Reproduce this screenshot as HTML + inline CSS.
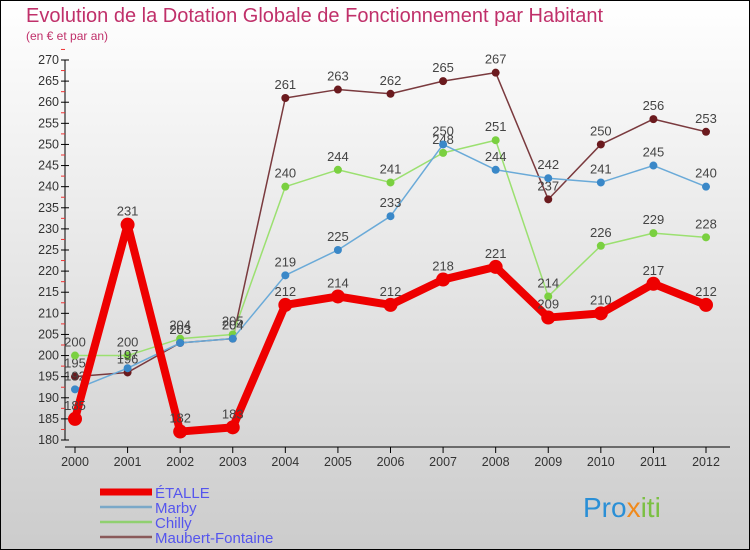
<!DOCTYPE html>
<html><head><meta charset="utf-8"><style>
body{margin:0;}
#wrap{width:750px;height:550px;position:relative;overflow:hidden;font-family:"Liberation Sans",sans-serif;}
</style></head><body>
<div id="wrap">
<svg id="svg" width="750" height="550" xmlns="http://www.w3.org/2000/svg">
<defs><linearGradient id="bg" x1="0" y1="0" x2="0" y2="1"><stop offset="0" stop-color="#ffffff"/><stop offset="1" stop-color="#cccccc"/></linearGradient></defs>
<rect x="0.5" y="0.5" width="749" height="549" fill="url(#bg)" stroke="#000"/>
<text x="26" y="22" font-size="20" fill="#c0306a">Evolution de la Dotation Globale de Fonctionnement par Habitant</text>
<text x="26" y="40" font-size="12" fill="#c0306a">(en € et par an)</text>
<g id="axes"></g><g id="series"></g><g id="legend"></g>
<text x="583" y="517" font-size="28" fill="#2a8fd6">Pro<tspan fill="#f08a1c">x</tspan><tspan fill="#7bc043">iti</tspan></text>
</svg>
</div>
<script>
const years=[2000,2001,2002,2003,2004,2005,2006,2007,2008,2009,2010,2011,2012];
const yTicks=[180,185,190,195,200,205,210,215,220,225,230,235,240,245,250,255,260,265,270];
const etalle=[185,231,182,183,212,214,212,218,221,209,210,217,212];
const marby=[192,197,203,204,219,225,233,250,244,242,241,245,240];
const chilly=[200,200,204,205,240,244,241,248,251,214,226,229,228];
const maubert=[195,196,203,204,261,263,262,265,267,237,250,256,253];
const NS="http://www.w3.org/2000/svg";
const x=i=>75+i*(706-75)/12;
const y=v=>440-(v-180)*(380/90);
function mk(t,a,p){const e=document.createElementNS(NS,t);for(const k in a)e.setAttribute(k,a[k]);p.appendChild(e);return e;}
const ax=document.getElementById('axes');
const yl=mk('line',{x1:65,y1:y(270),x2:65,y2:440,stroke:'#000'},ax);


const xl=mk('line',{x1:65,y1:447,x2:730,y2:447,stroke:'#000'},ax);


yTicks.forEach(v=>{
 const tk=mk('line',{x1:61,y1:y(v),x2:69,y2:y(v),stroke:'#000'},ax);
 
 
 const m=mk('line',{x1:61,y1:y(v+2.5),x2:65,y2:y(v+2.5),stroke:'#e33'},ax);
 
 
 const t=mk('text',{x:59,y:y(v)+4,'font-size':12.5,fill:'#333','text-anchor':'end'},ax);t.textContent=v;
 
 
});
years.forEach((yr,i)=>{
 const tk=mk('line',{x1:x(i),y1:447,x2:x(i),y2:453,stroke:'#000'},ax);
 
 
 const t=mk('text',{x:x(i),y:466,'font-size':12.5,fill:'#333','text-anchor':'middle'},ax);t.textContent=yr;
 
 
});
const sg=document.getElementById('series');
const series=[
 {name:'maubert',d:maubert,c:'#6b1a1e',line:'#7a3a3e',w:1.5,r:4},
 {name:'chilly',d:chilly,c:'#7ad040',line:'#9be070',w:1.5,r:4},
 {name:'marby',d:marby,c:'#3a88c8',line:'#6aaad8',w:1.5,r:4},
 {name:'etalle',d:etalle,c:'#ee0000',line:'#ee0000',w:8,r:7}
];
series.forEach(s=>{
 const p=mk('polyline',{points:s.d.map((v,i)=>x(i)+','+y(v)).join(' '),fill:'none',stroke:s.line,'stroke-width':s.w,'stroke-linejoin':'round'},sg);
 
 
 s.d.forEach((v,i)=>{
  const c=mk('circle',{cx:x(i),cy:y(v),r:s.r,fill:s.c},sg);
  
  
  const t=mk('text',{x:x(i),y:y(v)-9,'font-size':13,fill:'#444','text-anchor':'middle'},sg);t.textContent=v;
  
  
 });
});
const lg=document.getElementById('legend');
const leg=[['ÉTALLE','#ee0000',7],['Marby','#7aa8c8',2.5],['Chilly','#90d070',2.5],['Maubert-Fontaine','#8a5a5a',2.5]];
leg.forEach((l,i)=>{
 const yy=492+i*15;
 const ln=mk('line',{x1:100,y1:yy,x2:152,y2:yy,stroke:l[1],'stroke-width':l[2]},lg);
 
 
 const t=mk('text',{x:155,y:yy+6,'font-size':15,fill:'#5555ee'},lg);t.textContent=l[0];
 
 
});
</script>
</body></html>
